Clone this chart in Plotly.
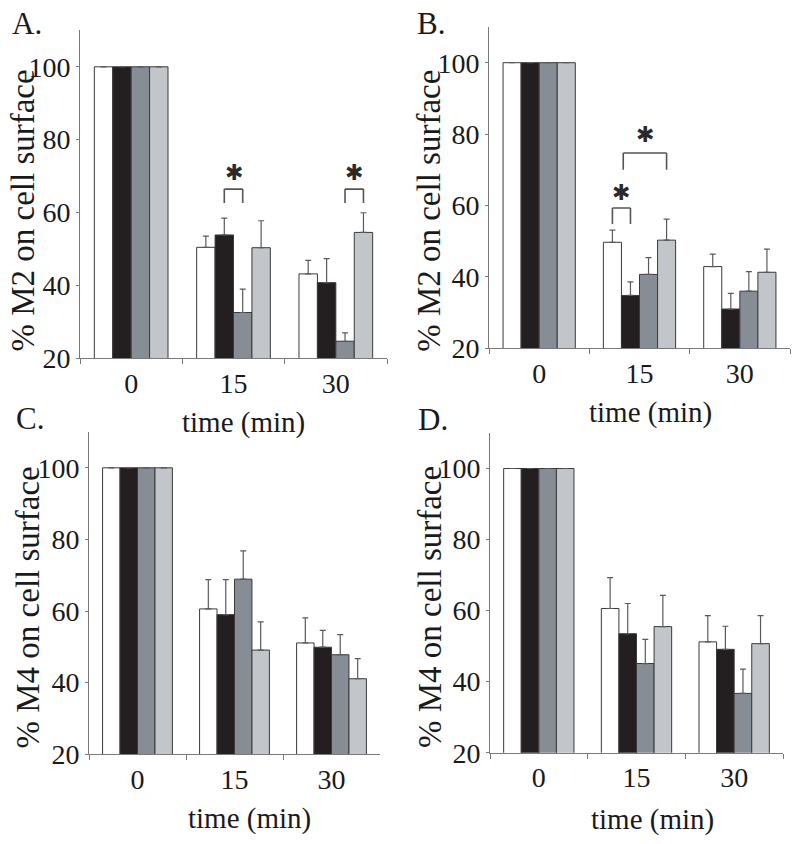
import plotly.graph_objects as go

W, H = 800, 844

# ---------------- data ----------------
times = ["0", "15", "30"]
series_names = ["Series 1", "Series 2", "Series 3", "Series 4"]
series_colors = ["#ffffff", "#231f20", "#878d95", "#c2c5ca"]

# Panel A (% M2 on cell surface)
A_white = [100, 50.4, 43.1]
A_black = [100, 53.8, 40.7]
A_dark = [100, 32.5, 24.6]
A_light = [100, 50.3, 54.5]
A_white_err = [0, 3.1, 3.7]
A_black_err = [0, 4.6, 6.6]
A_dark_err = [0, 6.4, 2.3]
A_light_err = [0, 7.4, 5.4]

# Panel B (% M2 on cell surface)
B_white = [100, 49.7, 42.9]
B_black = [100, 34.8, 31.0]
B_dark = [100, 40.7, 36.0]
B_light = [100, 50.3, 41.3]
B_white_err = [0, 3.4, 3.5]
B_black_err = [0, 3.8, 4.4]
B_dark_err = [0, 4.7, 5.5]
B_light_err = [0, 5.9, 6.5]

# Panel C (% M4 on cell surface)
C_white = [100, 60.6, 51.1]
C_black = [100, 59.0, 49.9]
C_dark = [100, 68.9, 47.8]
C_light = [100, 49.1, 41.1]
C_white_err = [0, 8.2, 7.0]
C_black_err = [0, 9.8, 4.7]
C_dark_err = [0, 7.9, 5.6]
C_light_err = [0, 7.9, 5.6]

# Panel D (% M4 on cell surface)
D_white = [100, 60.6, 51.2]
D_black = [100, 53.5, 49.1]
D_dark = [100, 45.1, 36.7]
D_light = [100, 55.5, 50.7]
D_white_err = [0, 8.7, 7.4]
D_black_err = [0, 8.5, 6.5]
D_dark_err = [0, 6.8, 6.8]
D_light_err = [0, 8.8, 7.9]

y_ticks = [20, 40, 60, 80, 100]
panel_letters = ["A.", "B.", "C.", "D."]
y_titles = ["% M2 on cell surface", "% M2 on cell surface",
            "% M4 on cell surface", "% M4 on cell surface"]
x_title = "time (min)"

# significance brackets: (panel, time index, series from, series to, leg bottom, top, star y)
brackets = [
    (0, 1, 1, 2, 62.6, 66.4, 71.0),
    (0, 2, 2, 3, 62.6, 66.4, 71.0),
    (1, 1, 0, 1, 54.8, 59.3, 63.6),
    (1, 1, 0.6, 3, 70.0, 74.7, 79.8),
]

panels = [
    ([A_white, A_black, A_dark, A_light], [A_white_err, A_black_err, A_dark_err, A_light_err]),
    ([B_white, B_black, B_dark, B_light], [B_white_err, B_black_err, B_dark_err, B_light_err]),
    ([C_white, C_black, C_dark, C_light], [C_white_err, C_black_err, C_dark_err, C_light_err]),
    ([D_white, D_black, D_dark, D_light], [D_white_err, D_black_err, D_dark_err, D_light_err]),
]

# ---------------- layout geometry (pixels) ----------------
BARGAP = 0.28
# plot areas: (left, right, y-pixel of value 20, y-pixel of value 110)
areas = [
    (80, 387, 358.0, 30.4),
    (489, 790, 348.3, 27.0),
    (89, 380, 754.3, 432.0),
    (490, 783, 752.7, 433.0),
]
letter_pos = [(27, 23), (431, 24), (30, 418), (433, 420)]
ytitle_pos = [(23, 60.5), (429, 58.5), (28, 61), (430, 61)]
xtitle_pos = [(243, 422), (650, 412), (249, 818), (652, 819)]

def px(x):
    return x / W

def py(y):
    return 1 - y / H

serif = "Liberation Serif"
fig = go.Figure()

for p, (vals, errs) in enumerate(panels):
    xa = "x" if p == 0 else f"x{p+1}"
    ya = "y" if p == 0 else f"y{p+1}"
    for s in range(4):
        fig.add_trace(go.Bar(
            x=times, y=vals[s], name=series_names[s],
            marker=dict(color=series_colors[s], line=dict(color="#3a3a3a", width=1)),
            error_y=dict(type="data", symmetric=False, array=errs[s],
                         arrayminus=[0] * len(errs[s]),
                         color="#5a5a5a", thickness=1.2, width=3),
            xaxis=xa, yaxis=ya, showlegend=False, offsetgroup=str(s),
        ))

layout = dict(
    template="none",
    width=W, height=H, margin=dict(l=0, r=0, t=0, b=0, pad=0),
    paper_bgcolor="white", plot_bgcolor="white",
    font=dict(family=serif, color="#1a1a1a"),
    barmode="group", bargap=BARGAP, bargroupgap=0,
    showlegend=False,
)
annotations = []
shapes = []
barw = (1 - BARGAP) / 4

for p in range(4):
    l, r, yb, yt = areas[p]
    sfx = "" if p == 0 else str(p + 1)
    layout["xaxis" + sfx] = dict(
        domain=[px(l), px(r)], anchor="y" + sfx, type="category",
        range=[-0.5, 2.5], showline=True, linecolor="#7a7a7a", linewidth=1,
        ticks="outside", tickson="boundaries", ticklen=5, tickcolor="#7a7a7a",
        tickfont=dict(family=serif, size=28, color="#1a1a1a"),
        showgrid=False, zeroline=False, fixedrange=True, automargin=False,
    )
    layout["yaxis" + sfx] = dict(
        domain=[py(yb), py(yt)], anchor="x" + sfx, range=[20, 110],
        tickvals=y_ticks, showline=True, linecolor="#7a7a7a", linewidth=1,
        ticks="outside", ticklen=3, tickcolor="#7a7a7a",
        tickfont=dict(family=serif, size=28, color="#1a1a1a"),
        showgrid=False, zeroline=False, fixedrange=True, automargin=False,
    )
    lx, ly = letter_pos[p]
    annotations.append(dict(text=panel_letters[p], xref="paper", yref="paper",
                            x=px(lx), y=py(ly), showarrow=False,
                            xanchor="center", yanchor="middle",
                            font=dict(family=serif, size=31, color="#1a1a1a")))
    tx, tv = ytitle_pos[p]
    annotations.append(dict(text=y_titles[p], xref="paper", yref="y" + sfx,
                            x=px(tx), y=tv, showarrow=False, textangle=-90,
                            xanchor="center", yanchor="middle",
                            font=dict(family=serif, size=33, color="#1a1a1a")))
    xx, xy = xtitle_pos[p]
    annotations.append(dict(text=x_title, xref="paper", yref="paper",
                            x=px(xx), y=py(xy), showarrow=False,
                            xanchor="center", yanchor="middle",
                            font=dict(family=serif, size=29, color="#1a1a1a")))

for (p, ti, s0, s1, ybot, ytop, ystar) in brackets:
    sfx = "" if p == 0 else str(p + 1)
    x0 = ti + (s0 - 1.5) * barw
    x1 = ti + (s1 - 1.5) * barw
    line = dict(color="#555555", width=1.6)
    for (a, b, c, d) in [(x0, ybot, x0, ytop), (x0, ytop, x1, ytop), (x1, ytop, x1, ybot)]:
        shapes.append(dict(type="line", xref="x" + sfx, yref="y" + sfx,
                           x0=a, y0=b, x1=c, y1=d, line=line))
    annotations.append(dict(text="✱", xref="x" + sfx, yref="y" + sfx,
                            x=(x0 + x1) / 2, y=ystar, showarrow=False,
                            xanchor="center", yanchor="middle",
                            font=dict(family="DejaVu Sans", size=22, color="#2a2a2a")))

layout["annotations"] = annotations
layout["shapes"] = shapes
fig.update_layout(**layout)
fig.write_html("out.html",
               config={"displayModeBar": False, "staticPlot": True},
               post_script="document.body.style.margin='0';document.body.style.overflow='hidden';")
